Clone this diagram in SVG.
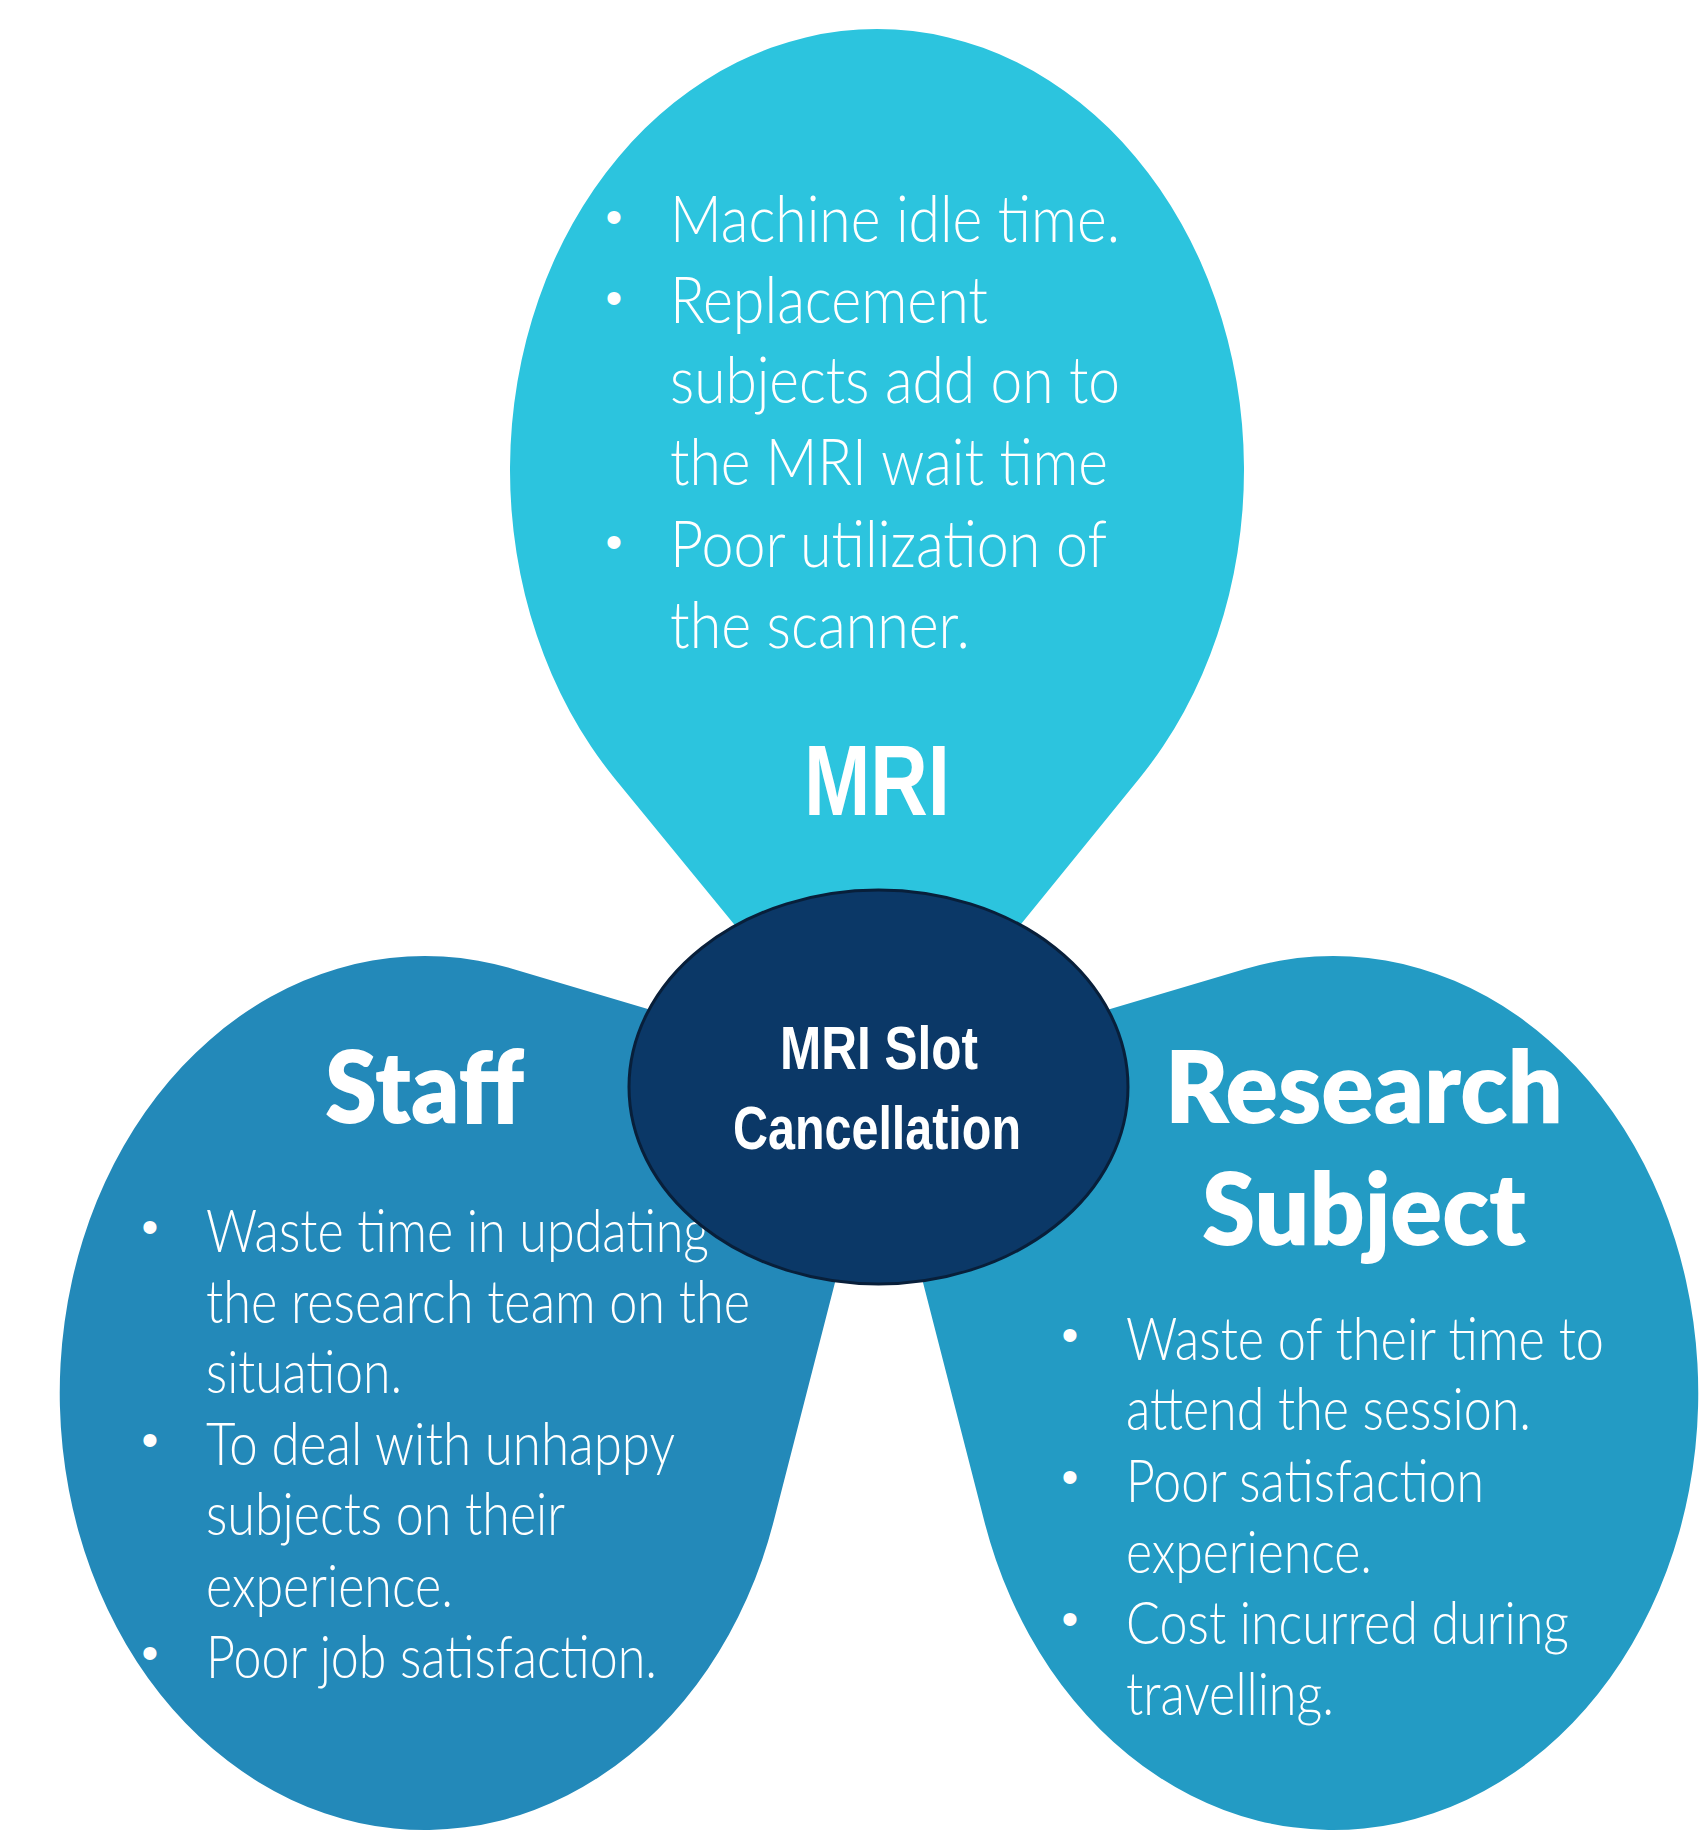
<svg xmlns="http://www.w3.org/2000/svg" width="1699" height="1842" viewBox="0 0 1699 1842">
  <style>
    .body { font-family: Lato, "Liberation Sans", sans-serif; font-weight: 300; fill: #ffffff; }
    .bullet { font-family: "Liberation Sans", Arial, sans-serif; font-size: 48px; fill: #ffffff; text-anchor: middle; }
    .head { font-family: "Liberation Sans", Arial, sans-serif; font-weight: 700; fill: #ffffff; }
    .head-round { font-family: Lato, "Liberation Sans", sans-serif; font-weight: 800; fill: #ffffff; }
  </style>
  <defs>
    <!-- left petal: ellipse body with a point reaching toward the hub -->
    <path id="side-petal" d="M 887 1080 L 513 969 A 365 437 0 1 0 774 1520 Z"/>
  </defs>

  <rect width="1699" height="1842" fill="#ffffff"/>

  <!-- top petal -->
  <g id="node-mri">
    <path d="M 878 1100 L 614.9 778.7 A 367 441 0 1 1 1139.1 778.7 Z" fill="#2cc4de"/>
    <g class="body" font-size="65">
      <text x="670" y="242" textLength="450" lengthAdjust="spacingAndGlyphs">Machine idle time.</text>
      <text x="670" y="323" textLength="318" lengthAdjust="spacingAndGlyphs">Replacement</text>
      <text x="670" y="403" textLength="450" lengthAdjust="spacingAndGlyphs">subjects add on to</text>
      <text x="670" y="485" textLength="438" lengthAdjust="spacingAndGlyphs">the MRI wait time</text>
      <text x="670" y="567" textLength="437" lengthAdjust="spacingAndGlyphs">Poor utilization of</text>
      <text x="670" y="648" textLength="300" lengthAdjust="spacingAndGlyphs">the scanner.</text>
    </g>
    <g>
      <text class="bullet" x="614" y="233">•</text>
      <text class="bullet" x="614" y="314">•</text>
      <text class="bullet" x="614" y="558">•</text>
    </g>
    <text class="head" x="804" y="815" font-size="100" textLength="146" lengthAdjust="spacingAndGlyphs">MRI</text>
  </g>

  <!-- left petal -->
  <g id="node-staff">
    <use href="#side-petal" fill="#2389b9"/>
    <text class="head-round" x="325" y="1123" font-size="100" textLength="199" lengthAdjust="spacingAndGlyphs">Staff</text>
    <g class="body" font-size="60">
      <text x="206" y="1252" textLength="503" lengthAdjust="spacingAndGlyphs">Waste time in updating</text>
      <text x="206" y="1323" textLength="544" lengthAdjust="spacingAndGlyphs">the research team on the</text>
      <text x="206" y="1393" textLength="196" lengthAdjust="spacingAndGlyphs">situation.</text>
      <text x="206" y="1465" textLength="469" lengthAdjust="spacingAndGlyphs">To deal with unhappy</text>
      <text x="206" y="1535" textLength="359" lengthAdjust="spacingAndGlyphs">subjects on their</text>
      <text x="206" y="1607" textLength="247" lengthAdjust="spacingAndGlyphs">experience.</text>
      <text x="206" y="1678" textLength="451" lengthAdjust="spacingAndGlyphs">Poor job satisfaction.</text>
    </g>
    <g>
      <text class="bullet" x="150" y="1243">•</text>
      <text class="bullet" x="150" y="1456">•</text>
      <text class="bullet" x="150" y="1669">•</text>
    </g>
  </g>

  <!-- right petal (mirror of the left one) -->
  <g id="node-research">
    <use href="#side-petal" fill="#239bc4" transform="translate(1758 0) scale(-1 1)"/>
    <text class="head-round" x="1165" y="1123" font-size="100" textLength="398" lengthAdjust="spacingAndGlyphs">Research</text>
    <text class="head-round" x="1202" y="1245" font-size="100" textLength="324" lengthAdjust="spacingAndGlyphs">Subject</text>
    <g class="body" font-size="60">
      <text x="1126" y="1360" textLength="478" lengthAdjust="spacingAndGlyphs">Waste of their time to</text>
      <text x="1126" y="1430" textLength="405" lengthAdjust="spacingAndGlyphs">attend the session.</text>
      <text x="1126" y="1502" textLength="358" lengthAdjust="spacingAndGlyphs">Poor satisfaction</text>
      <text x="1126" y="1573" textLength="246" lengthAdjust="spacingAndGlyphs">experience.</text>
      <text x="1126" y="1644" textLength="443" lengthAdjust="spacingAndGlyphs">Cost incurred during</text>
      <text x="1126" y="1715" textLength="208" lengthAdjust="spacingAndGlyphs">travelling.</text>
    </g>
    <g>
      <text class="bullet" x="1070" y="1351">•</text>
      <text class="bullet" x="1070" y="1493">•</text>
      <text class="bullet" x="1070" y="1635">•</text>
    </g>
  </g>

  <!-- hub -->
  <g id="node-center">
    <ellipse cx="878.5" cy="1087" rx="249.5" ry="197" fill="#0b3867" stroke="#081f3a" stroke-width="3"/>
    <text class="head" x="780" y="1069" font-size="61" textLength="198" lengthAdjust="spacingAndGlyphs">MRI Slot</text>
    <text class="head" x="733" y="1149" font-size="61" textLength="288" lengthAdjust="spacingAndGlyphs">Cancellation</text>
  </g>
</svg>
